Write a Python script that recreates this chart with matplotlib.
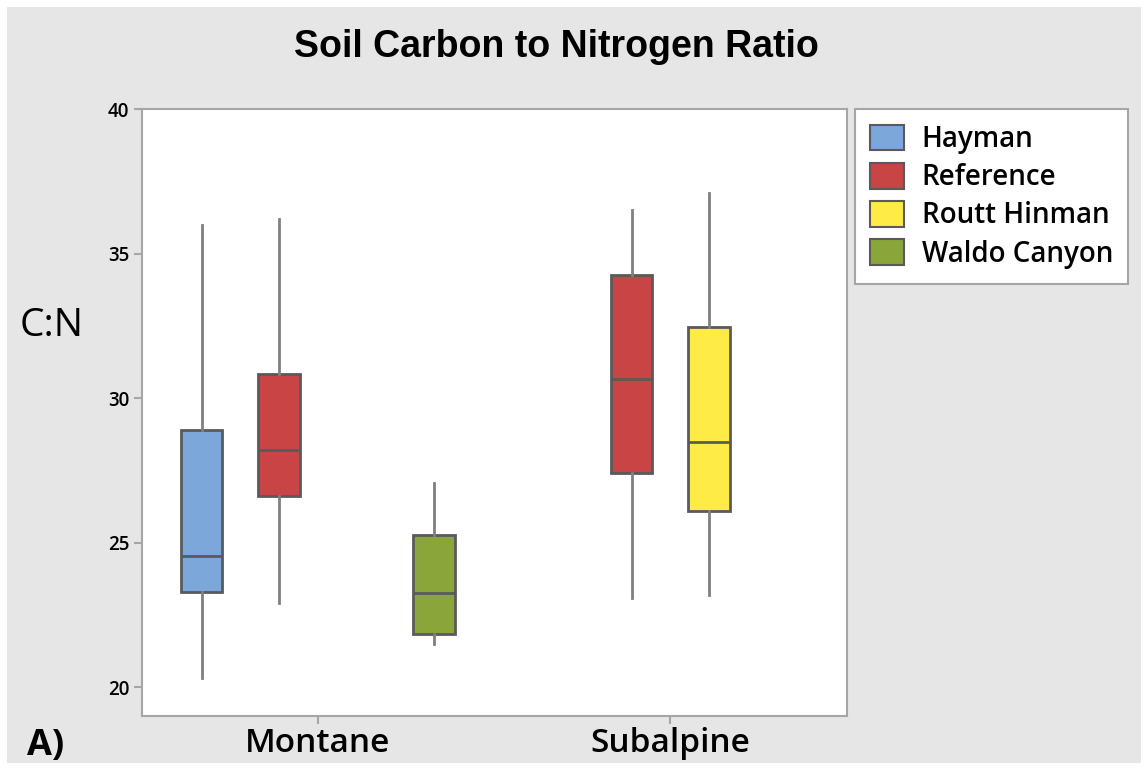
import matplotlib.pyplot as plt
import numpy as np
from matplotlib.patches import Patch

#### data ####
groups = ['Montane', 'Subalpine']
sites = ['Hayman', 'Reference', 'Routt Hinman', 'Waldo Canyon']
site_colors = ['#7ba7da', '#c94444', '#ffeb45', '#8aa63a']

box_group = ['Montane', 'Montane', 'Montane', 'Subalpine', 'Subalpine']
box_site = ['Hayman', 'Reference', 'Waldo Canyon', 'Reference', 'Routt Hinman']
whis_low = [20.3, 22.9, 21.5, 23.1, 23.2]
q1 = [23.3, 26.6, 21.85, 27.4, 26.1]
median = [24.55, 28.2, 23.25, 30.65, 28.5]
q3 = [28.9, 30.85, 25.25, 34.25, 32.45]
whis_high = [36.0, 36.2, 27.05, 36.5, 37.1]

y_ticks = [20, 25, 30, 35, 40]

#### style ####
plt.rcParams['font.family'] = ['Open Sans', 'DejaVu Sans']
edge = '#5a5a5a'
whisk = '#808080'
spine = '#a6a6a6'

fig = plt.figure(figsize=(11.48, 7.7), dpi=100)
fig.patch.set_facecolor('#e6e6e6')
fig.patch.set_edgecolor('white')
fig.patch.set_linewidth(10)

ax = fig.add_axes([141.7 / 1148, 1 - 716 / 770, (846.7 - 141.7) / 1148, (716 - 109.3) / 770])
ax.set_facecolor('white')

#### boxes ####
slot = 0.22
stats = []
positions = []
colors = []
for g, s, lo, a, m, b, hi in zip(box_group, box_site, whis_low, q1, median, q3, whis_high):
    stats.append(dict(whislo=lo, q1=a, med=m, q3=b, whishi=hi, fliers=[]))
    positions.append(groups.index(g) + (sites.index(s) - 1.5) * slot)
    colors.append(site_colors[sites.index(s)])

bp = ax.bxp(stats, positions=positions, widths=0.118, patch_artist=True,
            showcaps=False, showfliers=False,
            boxprops=dict(edgecolor=edge, linewidth=2),
            medianprops=dict(color=edge, linewidth=2),
            whiskerprops=dict(color=whisk, linewidth=2))
for box, c in zip(bp['boxes'], colors):
    box.set_facecolor(c)

#### axes ####
ax.set_xlim(-0.5, 1.5)
ax.set_ylim(19.0, 40)
ax.set_xticks(range(len(groups)))
ax.set_xticklabels(groups, fontsize=24, fontweight='semibold')
ax.set_yticks(y_ticks)
ax.set_yticklabels([str(t) for t in y_ticks], fontsize=13.5, fontweight='semibold')
ax.tick_params(axis='y', length=6, width=1.5, color=spine, pad=3)
ax.tick_params(axis='x', length=6, width=1.5, color=spine, pad=2)
for sp in ax.spines.values():
    sp.set_color(spine)
    sp.set_linewidth(1.5)

#### text ####
fig.text(556 / 1148, 1 - 56.7 / 770, 'Soil Carbon to Nitrogen Ratio', ha='center', va='baseline',
         fontsize=27, fontweight='bold', family='Liberation Sans')
fig.text(20 / 1148, 1 - 336 / 770, 'C:N', ha='left', va='baseline', fontsize=28)
fig.text(27 / 1148, 1 - 755 / 770, 'A)', ha='left', va='baseline', fontsize=26, fontweight='bold')

#### legend ####
handles = [Patch(facecolor=c, edgecolor=edge, linewidth=1.5) for c in site_colors]
leg = fig.legend(handles, sites, loc='upper left', bbox_to_anchor=(855 / 1148, 1 - 109.3 / 770),
                 fontsize=20, frameon=True, fancybox=False, framealpha=1, facecolor='white',
                 handlelength=1.2, handleheight=1.05, handletextpad=0.65, labelspacing=0.32,
                 borderpad=0.55, borderaxespad=0, prop=dict(size=20, weight='semibold'))
leg.get_frame().set_edgecolor(spine)
leg.get_frame().set_linewidth(1.5)

fig.savefig('out.png', dpi=100, facecolor=fig.get_facecolor(), edgecolor=fig.get_edgecolor())
